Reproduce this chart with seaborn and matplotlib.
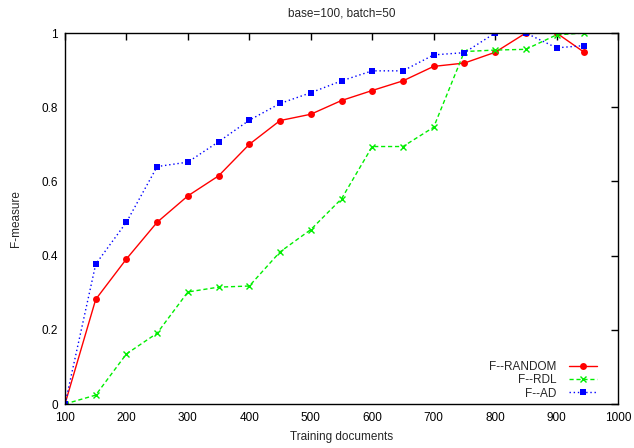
import matplotlib
matplotlib.use("Agg")
import matplotlib.pyplot as plt
import seaborn as sns

# Training set size (documents)
docs = [100, 150, 200, 250, 300, 350, 400, 450, 500, 550, 600, 650, 700, 750, 800, 850, 900, 945]

# F-measure per strategy
f_random = [0.0, 0.282, 0.391, 0.490, 0.561, 0.615, 0.700, 0.764, 0.781, 0.818,
            0.845, 0.871, 0.910, 0.919, 0.948, 1.0, 1.0, 0.948]
f_rdl = [0.0, 0.024, 0.135, 0.191, 0.302, 0.315, 0.318, 0.410, 0.470, 0.553,
         0.694, 0.694, 0.746, 0.950, 0.954, 0.956, 0.995, 1.0]
f_ad = [0.0, 0.377, 0.490, 0.640, 0.652, 0.707, 0.765, 0.810, 0.839, 0.871,
        0.898, 0.898, 0.941, 0.947, 1.0, 1.0, 0.960, 0.966]

x_ticks = [100, 200, 300, 400, 500, 600, 700, 800, 900, 1000]
y_ticks = [0, 0.2, 0.4, 0.6, 0.8, 1.0]
y_tick_labels = ["0", "0.2", "0.4", "0.6", "0.8", "1"]

sns.set_style("white")
plt.rcParams["font.family"] = ["Liberation Sans", "DejaVu Sans"]

fig = plt.figure(figsize=(6.34, 4.48), dpi=100)
ax = fig.add_axes([65 / 634, 44 / 448, 553 / 634, 371 / 448])

sns.lineplot(x=docs, y=f_random, ax=ax, color="#ff0000", linestyle="-", linewidth=1.0,
             marker="o", markersize=5, markeredgewidth=0, label="F--RANDOM")
sns.lineplot(x=docs, y=f_rdl, ax=ax, color="#00ee00", linestyle=(0, (3, 2)), linewidth=1.0,
             marker="x", markersize=5, markeredgewidth=1.0, markeredgecolor="#00ee00",
             label="F--RDL")
sns.lineplot(x=docs, y=f_ad, ax=ax, color="#0000ff", linestyle=(0, (1, 2)), linewidth=1.0,
             marker="s", markersize=5, markeredgewidth=0, label="F--AD")

ax.set_xlim(100, 1000)
ax.set_ylim(0, 1)
ax.set_xticks(x_ticks)
ax.set_yticks(y_ticks)
ax.set_yticklabels(y_tick_labels)
ax.tick_params(direction="in", length=5, width=1, top=True, right=True,
               labelsize=8.5, colors="black")
ax.tick_params(axis="x", pad=6)
ax.tick_params(axis="y", pad=5)
for s in ax.spines.values():
    s.set_visible(True)
    s.set_color("black")
    s.set_linewidth(1.0)

ax.set_xlabel("Training documents", fontsize=8.5, labelpad=5)
ax.set_ylabel("F-measure", fontsize=8.5, labelpad=14)
ax.set_title("base=100, batch=50", fontsize=8.5, pad=12)

leg = ax.legend(loc="lower right", bbox_to_anchor=(0.962, 0.012),
                markerfirst=False, frameon=False, fontsize=8.5,
                handlelength=2.4, handletextpad=1.0, labelspacing=0.12,
                borderaxespad=0.0, borderpad=0.0)

fig.savefig("out.png", dpi=100)
